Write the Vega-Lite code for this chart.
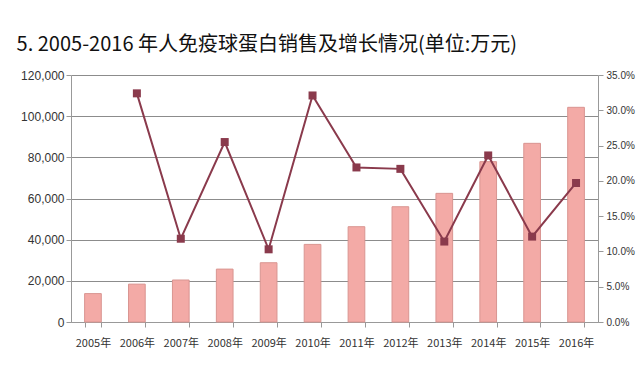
{
  "$schema": "https://vega.github.io/schema/vega-lite/v6.json",
  "width": 527,
  "height": 247,
  "padding": {"left": 16, "top": 35, "right": 5, "bottom": 5},
  "background": "white",
  "title": {
    "text": "5.  2005-2016 年人免疫球蛋白销售及增长情况(单位:万元)",
    "anchor": "start",
    "font": "Noto Sans CJK SC",
    "fontSize": 20,
    "fontWeight": "normal",
    "color": "#111111",
    "offset": 14,
    "dx": -4
  },
  "data": {
    "values": [
      {"year": "2005年", "sales": 13800, "growth": null},
      {"year": "2006年", "sales": 18400, "growth": 0.324},
      {"year": "2007年", "sales": 20400, "growth": 0.118},
      {"year": "2008年", "sales": 25700, "growth": 0.255},
      {"year": "2009年", "sales": 28800, "growth": 0.103},
      {"year": "2010年", "sales": 37700, "growth": 0.321},
      {"year": "2011年", "sales": 46300, "growth": 0.219},
      {"year": "2012年", "sales": 56000, "growth": 0.217},
      {"year": "2013年", "sales": 62500, "growth": 0.114},
      {"year": "2014年", "sales": 77900, "growth": 0.236},
      {"year": "2015年", "sales": 86800, "growth": 0.121},
      {"year": "2016年", "sales": 104300, "growth": 0.197}
    ]
  },
  "encoding": {
    "x": {
      "field": "year",
      "type": "nominal",
      "sort": null,
      "scale": {"paddingInner": 0.62, "paddingOuter": 0.31},
      "axis": {
        "title": null,
        "labelAngle": 0,
        "labelFont": "Noto Sans CJK SC",
        "labelFontSize": 11,
        "labelColor": "#333333",
        "labelPadding": 10,
        "tickBand": "extent",
        "tickColor": "#999999",
        "domainColor": "#999999",
        "tickSize": 5
      }
    }
  },
  "layer": [
    {
      "mark": {"type": "bar", "fill": "#f3aaa6", "stroke": "#d99591", "strokeWidth": 1},
      "encoding": {
        "y": {
          "field": "sales",
          "type": "quantitative",
          "scale": {"domain": [0, 120000]},
          "axis": {
            "title": null,
            "values": [0, 20000, 40000, 60000, 80000, 100000, 120000],
            "format": ",d",
            "labelOverlap": false,
            "labelFont": "Liberation Sans",
            "labelFontSize": 12,
            "labelColor": "#333333",
            "grid": true,
            "gridColor": "#8c8c8c",
            "gridWidth": 1,
            "domainColor": "#999999",
            "tickColor": "#999999",
            "tickSize": 5
          }
        }
      }
    },
    {
      "transform": [{"filter": "datum.growth != null"}],
      "mark": {"type": "line", "color": "#8a3a4c", "strokeWidth": 2, "point": {"shape": "square", "size": 64, "filled": true, "color": "#8a3a4c"}},
      "encoding": {
        "y": {
          "field": "growth",
          "type": "quantitative",
          "scale": {"domain": [0, 0.35]},
          "axis": {
            "title": null,
            "orient": "right",
            "values": [0, 0.05, 0.1, 0.15, 0.2, 0.25, 0.3, 0.35],
            "format": ".1%",
            "labelOverlap": false,
            "labelFont": "Liberation Sans",
            "labelFontSize": 10,
            "labelPadding": 3,
            "labelColor": "#333333",
            "grid": false,
            "domainColor": "#999999",
            "tickColor": "#999999",
            "tickSize": 5
          }
        }
      }
    }
  ],
  "resolve": {"scale": {"y": "independent"}},
  "config": {"view": {"stroke": null}}
}
